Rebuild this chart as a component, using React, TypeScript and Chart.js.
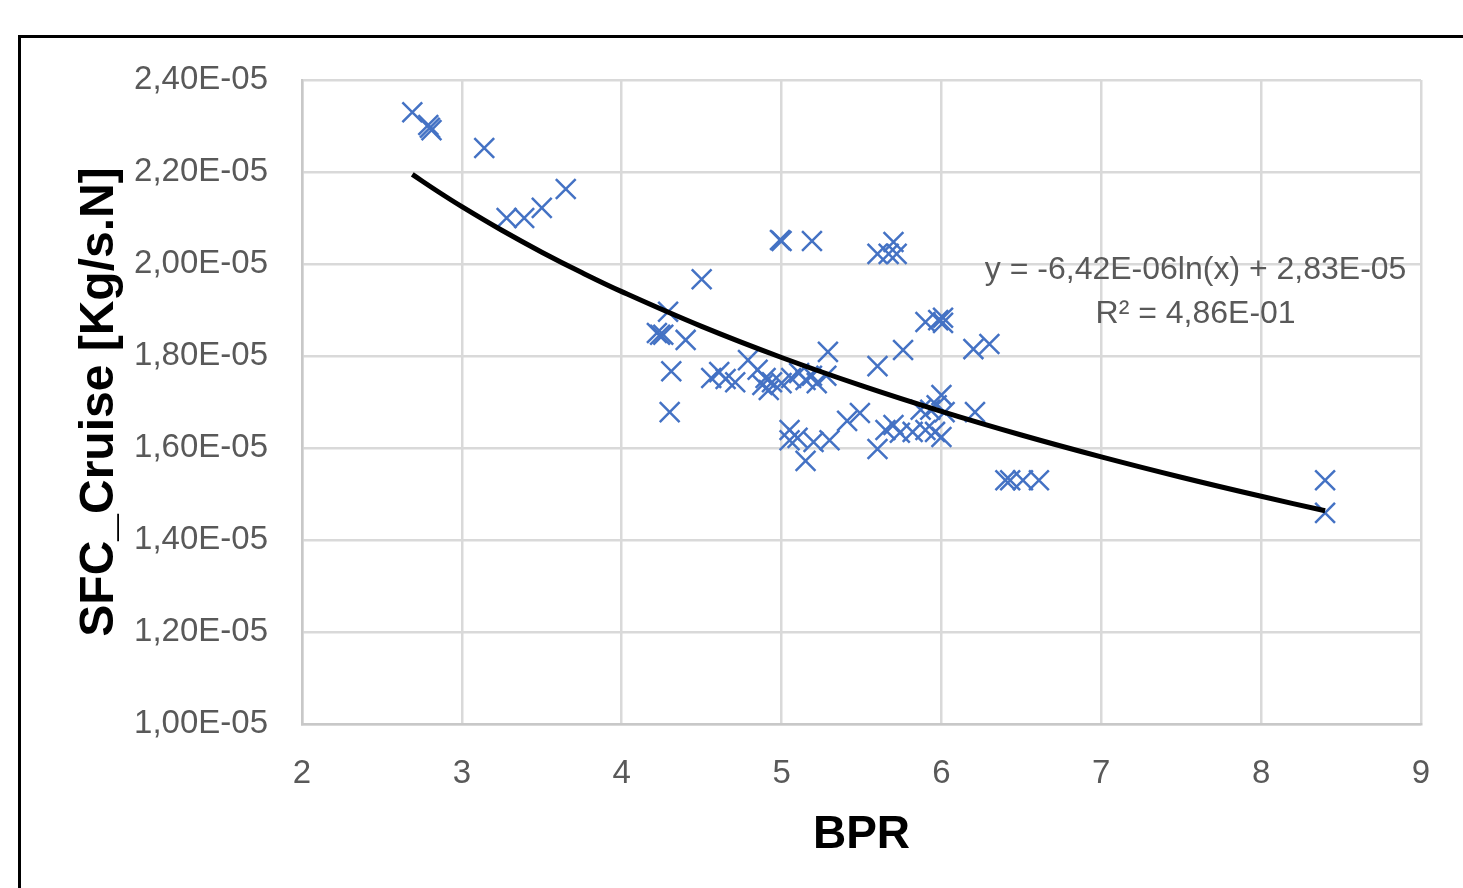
import React, { useEffect, useRef } from "react";
import { Chart, registerables } from "chart.js";

Chart.register(...registerables);

// BPR values (x)
const BPR = [
  2.69, 2.79, 2.80, 2.81, 3.14, 3.28, 3.39, 3.50, 3.65,
  4.22, 4.24, 4.26, 4.29, 4.40, 4.50, 4.31, 4.30,
  4.56, 4.61, 4.65, 4.71, 4.79, 4.85, 4.88, 4.90, 4.92, 4.94,
  5.00, 5.06, 5.11, 5.15, 5.19, 5.22, 5.28, 5.29,
  5.05, 5.05, 5.10, 5.15, 5.20, 5.30, 5.41, 5.49,
  5.60, 5.60, 5.65, 5.70, 5.74, 5.82, 5.90, 5.96, 6.00,
  5.87, 5.93, 5.97, 6.00, 6.02, 6.21,
  5.76, 5.90, 5.98, 6.01, 6.01, 6.20, 6.30,
  5.00, 4.99, 5.19, 5.60, 5.67, 5.72, 5.70,
  6.40, 6.43, 6.51, 6.61, 8.40, 8.40,
];

// SFC cruise values (y), kg/s.N
const SFC = [
  2.330e-5, 2.302e-5, 2.296e-5, 2.291e-5, 2.252e-5, 2.100e-5, 2.100e-5, 2.122e-5, 2.163e-5,
  1.850e-5, 1.846e-5, 1.846e-5, 1.896e-5, 1.835e-5, 1.967e-5, 1.767e-5, 1.678e-5,
  1.752e-5, 1.765e-5, 1.750e-5, 1.743e-5, 1.791e-5, 1.770e-5, 1.737e-5, 1.752e-5, 1.726e-5, 1.743e-5,
  1.741e-5, 1.752e-5, 1.763e-5, 1.748e-5, 1.757e-5, 1.741e-5, 1.757e-5, 1.809e-5,
  1.639e-5, 1.617e-5, 1.622e-5, 1.572e-5, 1.613e-5, 1.617e-5, 1.659e-5, 1.676e-5,
  1.778e-5, 1.598e-5, 1.639e-5, 1.650e-5, 1.633e-5, 1.635e-5, 1.639e-5, 1.635e-5, 1.624e-5,
  1.683e-5, 1.683e-5, 1.693e-5, 1.715e-5, 1.678e-5, 1.678e-5,
  1.813e-5, 1.874e-5, 1.878e-5, 1.883e-5, 1.872e-5, 1.815e-5, 1.826e-5,
  2.050e-5, 2.052e-5, 2.050e-5, 2.022e-5, 2.022e-5, 2.022e-5, 2.048e-5,
  1.530e-5, 1.530e-5, 1.530e-5, 1.530e-5, 1.530e-5, 1.459e-5,
];

// Logarithmic trendline as displayed on the chart: y = A ln(x) + B
const TREND_A = -6.42e-6;
const TREND_B = 2.83e-5;
const TREND_X = [2.69, 2.85, 3, 3.25, 3.5, 3.75, 4, 4.5, 5, 5.5, 6, 6.5, 7, 7.5, 8, 8.4];

const X_TICKS = [2, 3, 4, 5, 6, 7, 8, 9];
const Y_TICKS = [1.0e-5, 1.2e-5, 1.4e-5, 1.6e-5, 1.8e-5, 2.0e-5, 2.2e-5, 2.4e-5];
const Y_TICK_LABELS = ["1,00E-05", "1,20E-05", "1,40E-05", "1,60E-05", "1,80E-05", "2,00E-05", "2,20E-05", "2,40E-05"];

const X_TITLE = "BPR";
const Y_TITLE = "SFC_Cruise [Kg/s.N]";
const EQUATION = "y = -6,42E-06ln(x) + 2,83E-05";
const R_SQUARED = "R² = 4,86E-01";
const EQ_ANCHOR = { x: 7.59, y: 1.987e-5 };
const R2_ANCHOR = { x: 7.59, y: 1.890e-5 };

const TICK_FONT_FAMILY = "'Liberation Sans Narrow', 'Liberation Sans', Arial, sans-serif";
const GRAY_TEXT = "#595959";

export default function App() {
  const canvasRef = useRef<HTMLCanvasElement | null>(null);

  useEffect(() => {
    const canvas = canvasRef.current;
    if (!canvas) return;

    const scatterData = BPR.map((x, i) => ({ x, y: SFC[i] }));
    const trendData = TREND_X.map((x) => ({ x, y: TREND_A * Math.log(x) + TREND_B }));

    const equationPlugin = {
      id: "equationLabel",
      afterDatasetsDraw(chart: any) {
        const { ctx, scales } = chart;
        const xs = scales.x;
        const ys = scales.y;
        ctx.save();
        ctx.fillStyle = GRAY_TEXT;
        ctx.textAlign = "center";
        ctx.textBaseline = "middle";
        ctx.font = "32px 'Liberation Sans', Arial, sans-serif";
        ctx.fillText(EQUATION, xs.getPixelForValue(EQ_ANCHOR.x), ys.getPixelForValue(EQ_ANCHOR.y));
        ctx.fillText(R_SQUARED, xs.getPixelForValue(R2_ANCHOR.x), ys.getPixelForValue(R2_ANCHOR.y));
        ctx.restore();
      },
    };

    const chart = new Chart(canvas, {
      type: "scatter",
      data: {
        datasets: [
          {
            type: "line",
            label: "Trend",
            data: trendData,
            showLine: true,
            borderColor: "#000000",
            borderWidth: 5,
            pointRadius: 0,
            tension: 0.4,
            fill: false,
            order: 0,
          } as any,
          {
            label: "SFC_Cruise",
            data: scatterData,
            pointStyle: "crossRot",
            pointRadius: 14,
            pointHoverRadius: 14,
            borderColor: "#4472C4",
            backgroundColor: "#4472C4",
            pointBorderWidth: 2.5,
            borderWidth: 2.5,
            showLine: false,
            order: 1,
          } as any,
        ],
      },
      options: {
        responsive: false,
        animation: false,
        devicePixelRatio: 1,
        layout: { padding: { left: 0, top: 80, right: 42, bottom: 0 } },
        plugins: {
          legend: { display: false },
          tooltip: { enabled: false },
        },
        scales: {
          x: {
            type: "linear",
            min: 2,
            max: 9,
            afterBuildTicks: (s: any) => {
              s.ticks = X_TICKS.map((v) => ({ value: v }));
            },
            afterFit: (s: any) => {
              s.height = 888 - 724;
              s.paddingLeft = 0;
              s.paddingRight = 0;
            },
            ticks: {
              padding: 33,
              color: GRAY_TEXT,
              font: { family: TICK_FONT_FAMILY, size: 33, lineHeight: 1 },
              callback: (v: any) => String(v),
              maxRotation: 0,
            },
            grid: { color: "#d9d9d9", lineWidth: 2.5, drawTicks: false },
            border: { color: "#c8c8c8", width: 2.5 },
            title: {
              display: true,
              text: X_TITLE,
              color: "#000000",
              font: { family: "'Liberation Sans', Arial, sans-serif", size: 46, weight: "bold", lineHeight: 1 },
              padding: { top: 0, bottom: 30 },
            },
          },
          y: {
            type: "linear",
            min: 1.0e-5,
            max: 2.4e-5,
            afterBuildTicks: (s: any) => {
              s.ticks = Y_TICKS.map((v) => ({ value: v }));
            },
            afterFit: (s: any) => {
              s.width = 302;
              s.paddingTop = 0;
              s.paddingBottom = 0;
            },
            ticks: {
              padding: 34,
              color: GRAY_TEXT,
              font: { family: TICK_FONT_FAMILY, size: 33, lineHeight: 1 },
              callback: (_v: any, i: number) => Y_TICK_LABELS[i],
            },
            grid: { color: "#d9d9d9", lineWidth: 2.5, drawTicks: false },
            border: { color: "#c8c8c8", width: 2.5 },
            title: {
              display: true,
              text: Y_TITLE,
              color: "#000000",
              font: { family: "'Liberation Sans', Arial, sans-serif", size: 48, weight: "bold", lineHeight: 1 },
              padding: { top: 76, bottom: 0 },
            },
          },
        },
      },
      plugins: [equationPlugin],
    });

    return () => chart.destroy();
  }, []);

  return (
    <div
      style={{
        position: "absolute",
        left: 0,
        top: 0,
        width: 1463,
        height: 888,
        overflow: "hidden",
        background: "#ffffff",
      }}
    >
      <div
        style={{
          position: "absolute",
          left: 18,
          top: 35,
          width: 1520,
          height: 920,
          borderLeft: "3px solid #000",
          borderTop: "3px solid #000",
        }}
      />
      <canvas
        ref={canvasRef}
        width={1463}
        height={888}
        style={{ position: "absolute", left: 0, top: 0, width: 1463, height: 888 }}
      />
    </div>
  );
}
